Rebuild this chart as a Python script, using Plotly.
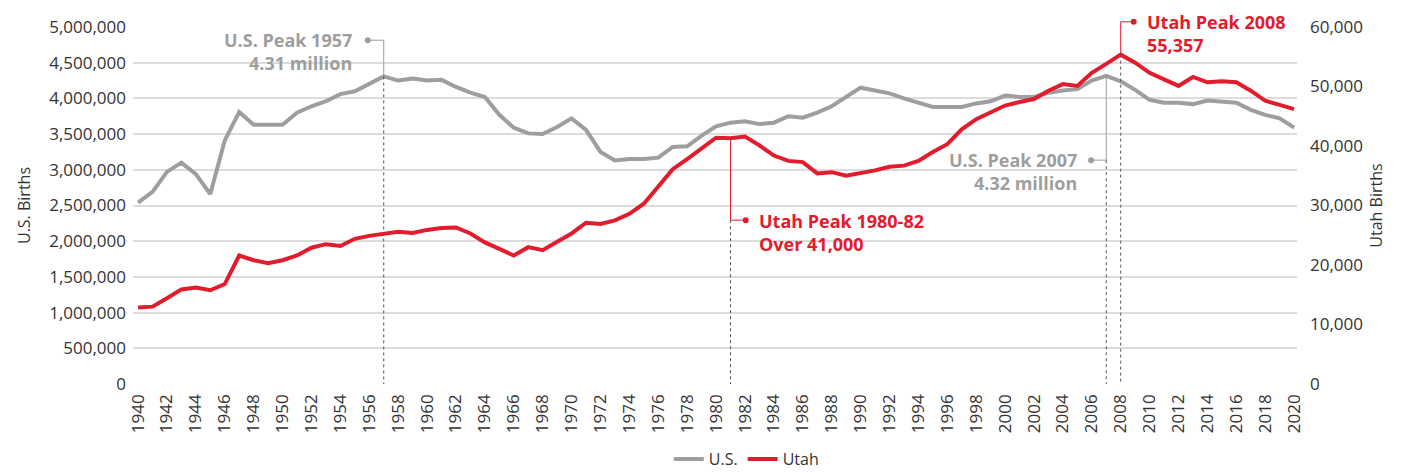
import plotly.graph_objects as go

years = list(range(1940, 2021))

us_births = [
    2540000, 2690000, 2970000, 3100000, 2940000, 2660000, 3410000, 3810000, 3630000, 3630000,
    3630000, 3800000, 3890000, 3960000, 4060000, 4100000, 4210000, 4308000, 4250000, 4280000,
    4250000, 4260000, 4160000, 4080000, 4020000, 3770000, 3590000, 3510000, 3500000, 3600000,
    3720000, 3560000, 3250000, 3130000, 3150000, 3150000, 3170000, 3320000, 3330000, 3480000,
    3610000, 3660000, 3680000, 3640000, 3660000, 3750000, 3730000, 3800000, 3890000, 4020000,
    4150000, 4110000, 4070000, 4000000, 3940000, 3880000, 3880000, 3880000, 3930000, 3960000,
    4040000, 4020000, 4020000, 4080000, 4110000, 4130000, 4250000, 4316000, 4240000, 4120000,
    3980000, 3940000, 3940000, 3920000, 3970000, 3960000, 3940000, 3840000, 3770000, 3720000,
    3590000,
]

utah_births = [
    12850, 13000, 14400, 15900, 16200, 15750, 16800, 21600, 20800, 20300,
    20800, 21600, 22900, 23500, 23200, 24400, 24900, 25300, 25600, 25400,
    25900, 26200, 26300, 25300, 23800, 22700, 21600, 23000, 22500, 23900,
    25300, 27100, 26900, 27500, 28600, 30300, 33100, 36100, 37800, 39700,
    41400, 41300, 41600, 40100, 38400, 37500, 37300, 35400, 35600, 35000,
    35400, 35900, 36500, 36700, 37500, 39000, 40300, 42800, 44500, 45700,
    46800, 47400, 47900, 49300, 50400, 50100, 52300, 53800, 55357, 54000,
    52300, 51200, 50100, 51600, 50700, 50900, 50700, 49300, 47600, 46900,
    46200,
]

us_ticks = list(range(0, 5000001, 500000))
utah_ticks = list(range(0, 60001, 10000))

US_MAX = 5000000
UT_MAX = 60000

GRAY = "#9e9e9e"
RED = "#e21b2d"
TXT = "#333333"
DOT = "#555555"
FONT = "Open Sans"
TICK = 17
ANN = 18

fig = go.Figure()

fig.add_trace(go.Scatter(
    x=years, y=us_births, name="U.S.", mode="lines",
    line=dict(color=GRAY, width=4), yaxis="y"))
fig.add_trace(go.Scatter(
    x=years, y=utah_births, name="Utah", mode="lines",
    line=dict(color=RED, width=4), yaxis="y2"))

def us_p(v):
    return v / US_MAX

def ut_p(v):
    return v / UT_MAX

shapes = []

def seg(x0, y0, x1, y1, color, dash="solid", width=1):
    shapes.append(dict(type="line", xref="x", yref="paper", x0=x0, y0=y0, x1=x1, y1=y1,
                       line=dict(color=color, width=width, dash=dash), layer="above"))

def idx(y):
    return years.index(y)

# U.S. 1957
y57 = us_p(us_births[idx(1957)])
lab57 = 0.963
seg(1957 - 1.1, lab57, 1957, lab57, GRAY)
seg(1957, lab57, 1957, y57, GRAY)
seg(1957, y57, 1957, 0, DOT, "dot")

# Utah 1980-82
y81 = ut_p(utah_births[idx(1981)])
lab81 = 0.459
seg(1981, y81, 1981, lab81, RED)
seg(1981, lab81, 1981 + 1.05, lab81, RED)
seg(1981, lab81, 1981, 0, DOT, "dot")

# U.S. 2007
y07 = us_p(us_births[idx(2007)])
lab07 = 0.627
seg(2007 - 1.05, lab07, 2007, lab07, GRAY)
seg(2007, y07, 2007, lab07, GRAY)
seg(2007, lab07, 2007, 0, DOT, "dot")

# Utah 2008
y08 = ut_p(utah_births[idx(2008)])
lab08 = 1.0146
seg(2008, y08, 2008, lab08, RED)
seg(2008, lab08, 2008 + 0.9, lab08, RED)
seg(2008, y08, 2008, 0, DOT, "dot")

for (xd, yd, c) in [(1957 - 1.1, lab57, GRAY), (1981 + 1.05, lab81, RED),
                    (2007 - 1.05, lab07, GRAY), (2008 + 0.9, lab08, RED)]:
    shapes.append(dict(type="circle", xref="x", yref="paper", xsizemode="pixel",
                       ysizemode="pixel", xanchor=xd, yanchor=yd,
                       x0=-3, x1=3, y0=-3, y1=3,
                       fillcolor=c, line=dict(width=0), layer="above"))

annotations = [
    dict(x=1957, y=0.932, xref="x", yref="paper", xshift=-30, xanchor="right", yanchor="middle",
         text="<b>U.S. Peak 1957<br>4.31 million</b>", align="right", showarrow=False,
         font=dict(family=FONT, size=ANN, color=GRAY)),
    dict(x=1981, y=0.425, xref="x", yref="paper", xshift=26, xanchor="left", yanchor="middle",
         text="<b>Utah Peak 1980-82<br>Over 41,000</b>", align="left", showarrow=False,
         font=dict(family=FONT, size=ANN, color=RED)),
    dict(x=2007, y=0.595, xref="x", yref="paper", xshift=-27, xanchor="right", yanchor="middle",
         text="<b>U.S. Peak 2007<br>4.32 million</b>", align="right", showarrow=False,
         font=dict(family=FONT, size=ANN, color=GRAY)),
    dict(x=2008, y=0.982, xref="x", yref="paper", xshift=24, xanchor="left", yanchor="middle",
         text="<b>Utah Peak 2008<br>55,357</b>", align="left", showarrow=False,
         font=dict(family=FONT, size=ANN, color=RED)),
]

# page body has an 8px default margin; figure sized/margined to compensate
fig.update_layout(
    width=1393, height=464, autosize=False,
    margin=dict(l=125, r=104, t=19, b=88, autoexpand=False),
    paper_bgcolor="white", plot_bgcolor="white",
    font=dict(family=FONT, size=TICK, color=TXT),
    showlegend=True,
    legend=dict(orientation="h", xref="container", yref="container",
                x=0.530, xanchor="center", y=0.028, yanchor="middle",
                font=dict(family=FONT, size=16, color=TXT), itemwidth=30,
                bgcolor="rgba(0,0,0,0)"),
    xaxis=dict(range=[1939.65, 2020.2], tickmode="array", tickvals=years[::2],
               ticktext=[str(y) for y in years[::2]], tickangle=-90,
               showgrid=False, zeroline=False, showline=False, ticks="",
               ticklabelstandoff=6, automargin=False,
               tickfont=dict(family=FONT, size=TICK, color=TXT)),
    yaxis=dict(range=[0, US_MAX], tickmode="array", tickvals=us_ticks,
               ticktext=[f"{v:,}" for v in us_ticks],
               showgrid=True, gridcolor="#dcdcdc", gridwidth=1.5, zeroline=False,
               showline=False, ticks="", ticklabelstandoff=6, automargin=False,
               tickfont=dict(family=FONT, size=TICK, color=TXT),
               title=dict(text="U.S. Births", font=dict(family=FONT, size=16, color=TXT), standoff=14)),
    yaxis2=dict(range=[0, UT_MAX], overlaying="y", side="right", tickmode="array",
                tickvals=utah_ticks, ticktext=[f"{v:,}" for v in utah_ticks],
                showgrid=False, zeroline=False, showline=False, ticks="", ticklabelstandoff=12,
                automargin=False,
                tickfont=dict(family=FONT, size=TICK, color=TXT),
                title=dict(text="Utah Births", font=dict(family=FONT, size=16, color=TXT), standoff=8)),
    shapes=shapes,
    annotations=annotations,
)

fig.write_html("out.html")
